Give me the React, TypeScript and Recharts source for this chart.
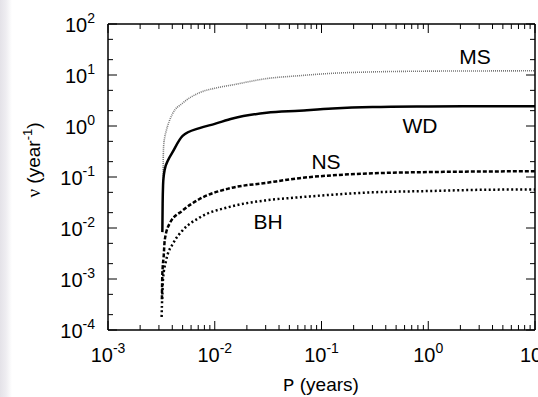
import React from "react";
import { LineChart, Line, XAxis, YAxis } from "recharts";

// ---- data (P in years, nu in year^-1) ----
const P_MS = [0.00328, 0.00329, 0.00332, 0.0034, 0.0035, 0.004, 0.005, 0.0072, 0.01, 0.0147, 0.0306, 0.062, 0.127, 0.3, 1, 3, 10];
const NU_MS = [0.06, 0.2, 0.4, 0.6, 0.78, 1.7, 2.8, 4.5, 5.5, 6.4, 8.5, 9.7, 10.8, 11.5, 11.9, 12, 12.1];

const P_WD = [0.00323, 0.00325, 0.00328, 0.00332, 0.0034, 0.00364, 0.004, 0.005, 0.0072, 0.01, 0.0147, 0.0306, 0.062, 0.127, 0.3, 1, 3, 10];
const NU_WD = [0.0083, 0.03, 0.07, 0.1, 0.14, 0.21, 0.3, 0.64, 0.91, 1.1, 1.4, 1.82, 2.0, 2.2, 2.35, 2.42, 2.45, 2.45];

const P_NS = [0.0032, 0.00322, 0.00326, 0.00332, 0.0034, 0.0038, 0.005, 0.0072, 0.0138, 0.0306, 0.062, 0.127, 0.3, 1, 3, 10];
const NU_NS = [0.0004, 0.001, 0.0018, 0.0027, 0.0058, 0.0125, 0.022, 0.037, 0.06, 0.077, 0.095, 0.108, 0.118, 0.125, 0.128, 0.13];

const P_BH = [0.00318, 0.0032, 0.00323, 0.00327, 0.0035, 0.0041, 0.005, 0.0072, 0.0138, 0.0306, 0.062, 0.127, 0.3, 1, 3, 10];
const NU_BH = [0.00018, 0.0003, 0.0005, 0.00095, 0.0023, 0.0051, 0.009, 0.016, 0.026, 0.035, 0.04, 0.045, 0.05, 0.053, 0.056, 0.057];

// ---- axes ----
const X_MAJOR = [0.001, 0.01, 0.1, 1, 10];
const X_EXP = ["-3", "-2", "-1", "0", "1"];
const Y_MAJOR = [1e-4, 1e-3, 1e-2, 1e-1, 1, 10, 100];
const Y_EXP = ["-4", "-3", "-2", "-1", "0", "1", "2"];
const X_MINOR_MULT = [1, 2, 3, 4, 5, 6, 7, 8, 9];
const Y_MINOR_MULT = [1, 2, 5];

const X_TICKS = X_MAJOR.slice(0, -1).flatMap((d) => X_MINOR_MULT.map((m) => d * m)).concat([X_MAJOR[X_MAJOR.length - 1]]);
const Y_TICKS = Y_MAJOR.slice(0, -1).flatMap((d) => Y_MINOR_MULT.map((m) => d * m)).concat([Y_MAJOR[Y_MAJOR.length - 1]]);

const toData = (ps: number[], nus: number[]) => ps.map((p, i) => ({ p, nu: nus[i] }));
const msData = toData(P_MS, NU_MS);
const wdData = toData(P_WD, NU_WD);
const nsData = toData(P_NS, NU_NS);
const bhData = toData(P_BH, NU_BH);

const FONT = "'Liberation Sans', Arial, Helvetica, sans-serif";
const MAJ = 9;
const MIN = 5;

const majorIndex = (v: number, majors: number[]) =>
  majors.findIndex((m) => Math.abs(Math.log10(v) - Math.log10(m)) < 1e-6);

const makeXTick = (side: "top" | "bottom") => (props: any) => {
  const { x, y, payload } = props;
  const idx = majorIndex(payload.value, X_MAJOR);
  const len = idx >= 0 ? MAJ : MIN;
  const dir = side === "bottom" ? -1 : 1;
  return (
    <g>
      <line x1={x} y1={y} x2={x} y2={y + dir * len} stroke="#000" strokeWidth={1} />
      {side === "bottom" && idx >= 0 && (
        <text x={x} y={y + 32} textAnchor="middle" fontFamily={FONT} fontSize={20} fill="#000">
          10
          <tspan dy={-9} fontSize={14}>{X_EXP[idx]}</tspan>
        </text>
      )}
    </g>
  );
};

const makeYTick = (side: "left" | "right") => (props: any) => {
  const { x, y, payload } = props;
  const idx = majorIndex(payload.value, Y_MAJOR);
  const len = idx >= 0 ? MAJ : MIN;
  const dir = side === "left" ? 1 : -1;
  return (
    <g>
      <line x1={x} y1={y} x2={x + dir * len} y2={y} stroke="#000" strokeWidth={1} />
      {side === "left" && idx >= 0 && (
        <text x={x - 13} y={y + 8} textAnchor="end" fontFamily={FONT} fontSize={20} fill="#000">
          10
          <tspan dy={-9} fontSize={14}>{Y_EXP[idx]}</tspan>
        </text>
      )}
    </g>
  );
};

const XTickBottom = makeXTick("bottom");
const XTickTop = makeXTick("top");
const YTickLeft = makeYTick("left");
const YTickRight = makeYTick("right");

const axisLine = { stroke: "#000", strokeWidth: 1.5 };

export default function App() {
  return (
    <div
      style={{
        position: "fixed",
        left: 0,
        top: 0,
        width: 538,
        height: 397,
        background: "linear-gradient(to right, #e4e2e8 0px, #eeedf1 6px, #ffffff 12px)",
      }}
    >
      <LineChart width={538} height={397} margin={{ top: 23, right: 2, bottom: 66, left: 107 }}>
        <XAxis
          xAxisId="bottom"
          dataKey="p"
          type="number"
          scale="log"
          domain={[0.001, 10]}
          allowDataOverflow
          ticks={X_TICKS}
          interval={0}
          orientation="bottom"
          height={1}
          tickSize={0}
          tickMargin={0}
          tickLine={false}
          axisLine={axisLine}
          tick={XTickBottom}
        />
        <XAxis
          xAxisId="top"
          dataKey="p"
          type="number"
          scale="log"
          domain={[0.001, 10]}
          allowDataOverflow
          ticks={X_TICKS}
          interval={0}
          orientation="top"
          height={1}
          tickSize={0}
          tickMargin={0}
          tickLine={false}
          axisLine={axisLine}
          tick={XTickTop}
        />
        <YAxis
          yAxisId="left"
          type="number"
          scale="log"
          domain={[1e-4, 100]}
          allowDataOverflow
          ticks={Y_TICKS}
          interval={0}
          orientation="left"
          width={1}
          tickSize={0}
          tickMargin={0}
          tickLine={false}
          axisLine={axisLine}
          tick={YTickLeft}
        />
        <YAxis
          yAxisId="right"
          type="number"
          scale="log"
          domain={[1e-4, 100]}
          allowDataOverflow
          ticks={Y_TICKS}
          interval={0}
          orientation="right"
          width={1}
          tickSize={0}
          tickMargin={0}
          tickLine={false}
          axisLine={axisLine}
          tick={YTickRight}
        />
        <Line data={msData} dataKey="nu" xAxisId="bottom" yAxisId="left" type="monotone" stroke="#777" strokeWidth={1.6} strokeDasharray="1 1" dot={false} isAnimationActive={false} />
        <Line data={wdData} dataKey="nu" xAxisId="bottom" yAxisId="left" type="monotone" stroke="#000" strokeWidth={2.5} dot={false} isAnimationActive={false} />
        <Line data={nsData} dataKey="nu" xAxisId="bottom" yAxisId="left" type="monotone" stroke="#000" strokeWidth={2.5} strokeDasharray="4 2" dot={false} isAnimationActive={false} />
        <Line data={bhData} dataKey="nu" xAxisId="bottom" yAxisId="left" type="monotone" stroke="#000" strokeWidth={2.5} strokeDasharray="2 2.5" dot={false} isAnimationActive={false} />
      </LineChart>
      <svg width={538} height={397} style={{ position: "absolute", left: 0, top: 0, pointerEvents: "none" }}>
        <g fontFamily={FONT} fontSize={21} fill="#000" textAnchor="middle">
          <text x={475} y={64}>MS</text>
          <text x={420} y={133}>WD</text>
          <text x={326} y={169}>NS</text>
          <text x={268} y={229}>BH</text>
        </g>
        <text x={321} y={391} textAnchor="middle" fontSize={19} fill="#000">
          <tspan fontFamily="'Liberation Mono', 'Courier New', monospace">P</tspan>
          <tspan fontFamily={FONT}> (years)</tspan>
        </text>
        <text x={40} y={160} textAnchor="middle" fontSize={19} fill="#000" transform="rotate(-90 40 160)">
          <tspan fontFamily="'Liberation Serif', serif">ν</tspan>
          <tspan fontFamily={FONT}> (year</tspan>
          <tspan fontFamily={FONT} fontSize={13} dy={-8}>-1</tspan>
          <tspan fontFamily={FONT} dy={8}>)</tspan>
        </text>
      </svg>
    </div>
  );
}
